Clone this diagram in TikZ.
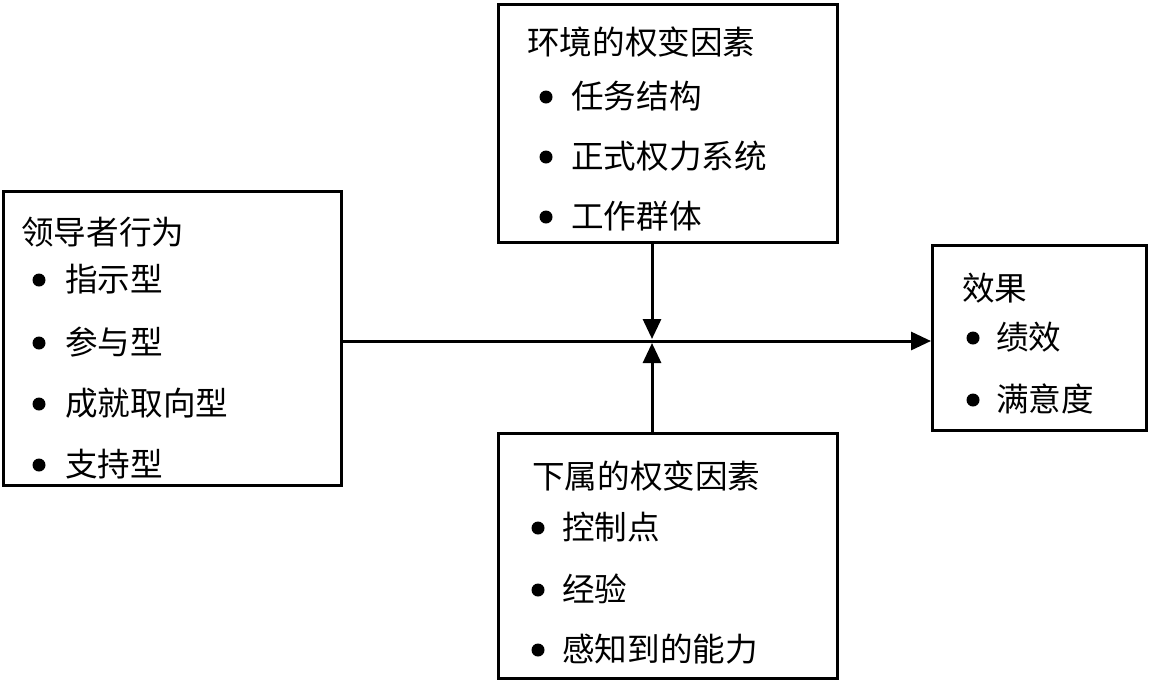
\documentclass[tikz,border=0pt]{standalone}
\usepackage{fontspec}
\newfontfamily\cjk{Noto Sans CJK SC}
\usetikzlibrary{arrows.meta}
\tikzset{
  boxnode/.style={draw=black, line width=3pt, rectangle, inner sep=0pt},
  txt/.style={anchor=west, inner sep=0pt, font=\cjk\fontsize{32.6}{36}\selectfont},
  conn/.style={line width=3pt, -{Triangle[length=20pt,width=18pt]}},
  bul/.style={fill=black}
}
\begin{document}
\begin{tikzpicture}[x=1pt,y=-1pt]
\useasboundingbox (0,0) rectangle (1158,686);
% boxes
\node[boxnode, minimum width=338pt, minimum height=294pt] (lead) at (172.5,338.5) {};
\node[boxnode, minimum width=338.5pt, minimum height=238pt] (env) at (668,123.5) {};
\node[boxnode, minimum width=338.5pt, minimum height=245pt] (sub) at (668,556) {};
\node[boxnode, minimum width=214pt, minimum height=185pt] (eff) at (1039.5,338) {};
\coordinate (m) at (652,341);
\coordinate (mt) at (652,339);
\coordinate (mb) at (652,343);
% left box text
\node[txt] (lt) at (21,232) {领导者行为};
\node[txt] (l1) at (65,279) {指示型};
\node[txt] (l2) at (65,342) {参与型};
\node[txt] (l3) at (65,403) {成就取向型};
\node[txt] (l4) at (65,464) {支持型};
\foreach \y in {280,343,404,465} \fill[bul] (39,\y) circle (6.5);
% top box text
\node[txt] (et) at (527,42) {环境的权变因素};
\node[txt] (e1) at (571,96) {任务结构};
\node[txt] (e2) at (571,156) {正式权力系统};
\node[txt] (e3) at (571,216) {工作群体};
\foreach \y in {97,157,217} \fill[bul] (546,\y) circle (6.5);
% bottom box text
\node[txt] (st) at (532,476) {下属的权变因素};
\node[txt] (s1) at (562,527) {控制点};
\node[txt] (s2) at (562,589) {经验};
\node[txt] (s3) at (562,649) {感知到的能力};
\foreach \y in {528,590,650} \fill[bul] (538,\y) circle (6.5);
% right box text
\node[txt] (ft) at (962,288) {效果};
\node[txt] (f1) at (996,337) {绩效};
\node[txt] (f2) at (996,399) {满意度};
\foreach \y in {338,400} \fill[bul] (973,\y) circle (6.5);
% connectors
\draw[conn] (lead.east |- m) -- (eff.west |- m);
\draw[conn] (m |- env.south) -- (mt);
\draw[conn] (m |- sub.north) -- (mb);
\end{tikzpicture}
\end{document}
